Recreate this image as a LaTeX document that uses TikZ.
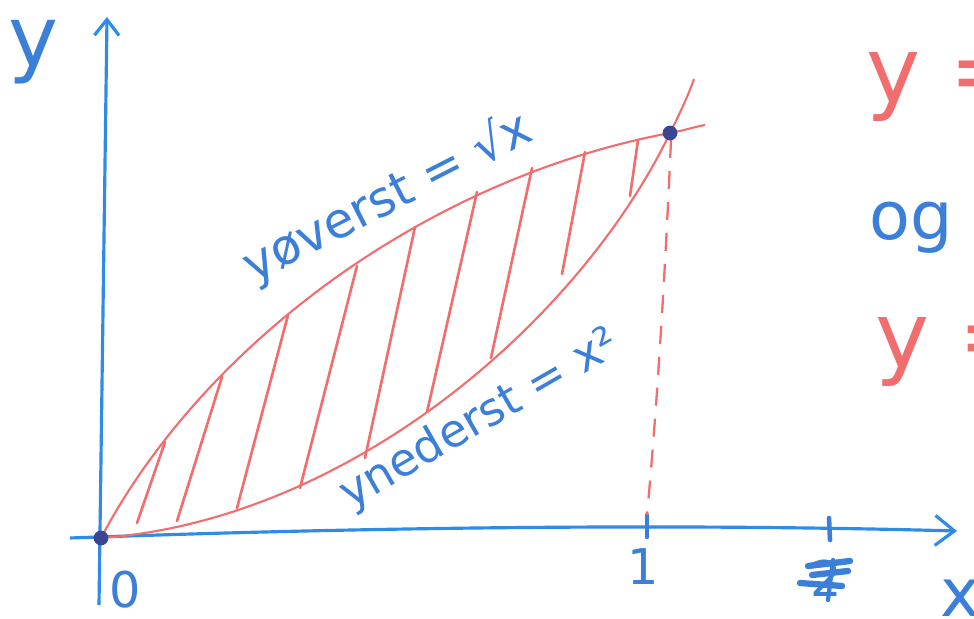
\documentclass[tikz,border=0pt]{standalone}
\usepackage{fontspec}
\setmainfont{DejaVu Sans}
\usetikzlibrary{arrows.meta}
\definecolor{penblue}{HTML}{3B7FD9}
\definecolor{axisblue}{HTML}{2E8BE6}
\definecolor{penred}{HTML}{F26D6D}
\definecolor{dotblue}{HTML}{3A4593}
\begin{document}
\begin{tikzpicture}[x=0.01cm,y=-0.01cm,
  axis/.style={axisblue, line width=0.9pt},
  tickmark/.style={penblue, line width=1.3pt, line cap=round},
  curve/.style={penred, line width=0.6pt},
  hatch/.style={penred, line width=0.75pt, line cap=round},
  guide/.style={penred, line width=0.65pt, dash pattern=on 0.18cm off 0.13cm},
  lbl/.style={penblue, inner sep=0pt},
  dot/.style={circle, fill=dotblue, inner sep=0pt, minimum size=4.2pt}]
\useasboundingbox (0,0) rectangle (974,619);
\fill[white] (0,0) rectangle (974,619);
\clip (0,0) rectangle (974,619);

% key points
\coordinate (o) at (101,538);
\coordinate (p) at (670,133);
\coordinate (ue) at (705,125);
\coordinate (le) at (694,79);
\coordinate (xs) at (70,538);
\coordinate (xe) at (957,531);
\coordinate (ys) at (99,605);
\coordinate (ye) at (107,17);
\coordinate (t1a) at (647,515);
\coordinate (t1b) at (647,537);
\coordinate (t2a) at (829,518);
\coordinate (t2b) at (830,540);

% axes
\draw[axis,-{Straight Barb[length=4.5pt,width=7pt]}] (ys) -- (ye);
\draw[axis,-{Straight Barb[length=5.5pt,width=8.5pt]}] (xs) .. controls (400,526) and (700,524) .. (xe);
\draw[tickmark] (t1a) -- (t1b);
\draw[tickmark] (t2a) -- (t2b);

% curves
\draw[curve] (o) .. controls (200,350) and (420,180) .. (p) .. controls (682,131) and (694,127) .. (ue);
\draw[curve] (o) .. controls (350,520) and (580,320) .. (p) .. controls (680,113) and (688,96) .. (le);

% hatching
\draw[hatch] (137,523) -- (165,442);
\draw[hatch] (177,521) -- (222,377);
\draw[hatch] (237,508) -- (288,315);
\draw[hatch] (300,488) -- (357,266);
\draw[hatch] (365,458) -- (415,227);
\draw[hatch] (427,412) -- (477,192);
\draw[hatch] (491,358) -- (532,168);
\draw[hatch] (562,274) -- (585,152);
\draw[hatch] (630,196) -- (638,140);

% dashed guide
\draw[guide] (671,140) .. controls (664,300) and (655,430) .. (t1a);

% dots
\node[dot] (O) at (o) {};
\node[dot] (P) at (p) {};

% labels
\node[lbl, rotate=27, font=\fontsize{14}{16}\selectfont] (up) at (388,198) {yøverst = √x};
\node[lbl, rotate=30, font=\fontsize{13}{15}\selectfont] (lo) at (480,420) {ynederst = x²};
\node[lbl, font=\fontsize{24}{28}\selectfont] (ylab) at (33,52) {y};
\node[lbl, font=\fontsize{19}{22}\selectfont] (xlab) at (960,598) {x};
\node[lbl, font=\fontsize{14}{16}\selectfont] (zero) at (125,590) {0};
\node[lbl, font=\fontsize{14}{16}\selectfont] (one) at (643,567) {1};
\node[lbl, font=\fontsize{14}{16}\selectfont] (two) at (826,578) {2};
\draw[penblue, line width=1.8pt, line cap=round] (808,566) -- (850,561);
\draw[penblue, line width=1.8pt, line cap=round] (812,575) -- (848,571);
\draw[penblue, line width=1.8pt, line cap=round] (800,583) -- (842,586);
\draw[penblue, line width=1.2pt, line cap=round] (833,560) -- (828,600);

% right-hand side
\node[penred, inner sep=0pt, anchor=west, font=\fontsize{26}{30}\selectfont] (r1) at (866,87) {y =};
\node[lbl, font=\fontsize{19}{22}\selectfont] (og) at (911,228) {og};
\node[penred, inner sep=0pt, anchor=west, font=\fontsize{26}{30}\selectfont] (r2) at (875,352) {y =};
\end{tikzpicture}
\end{document}
